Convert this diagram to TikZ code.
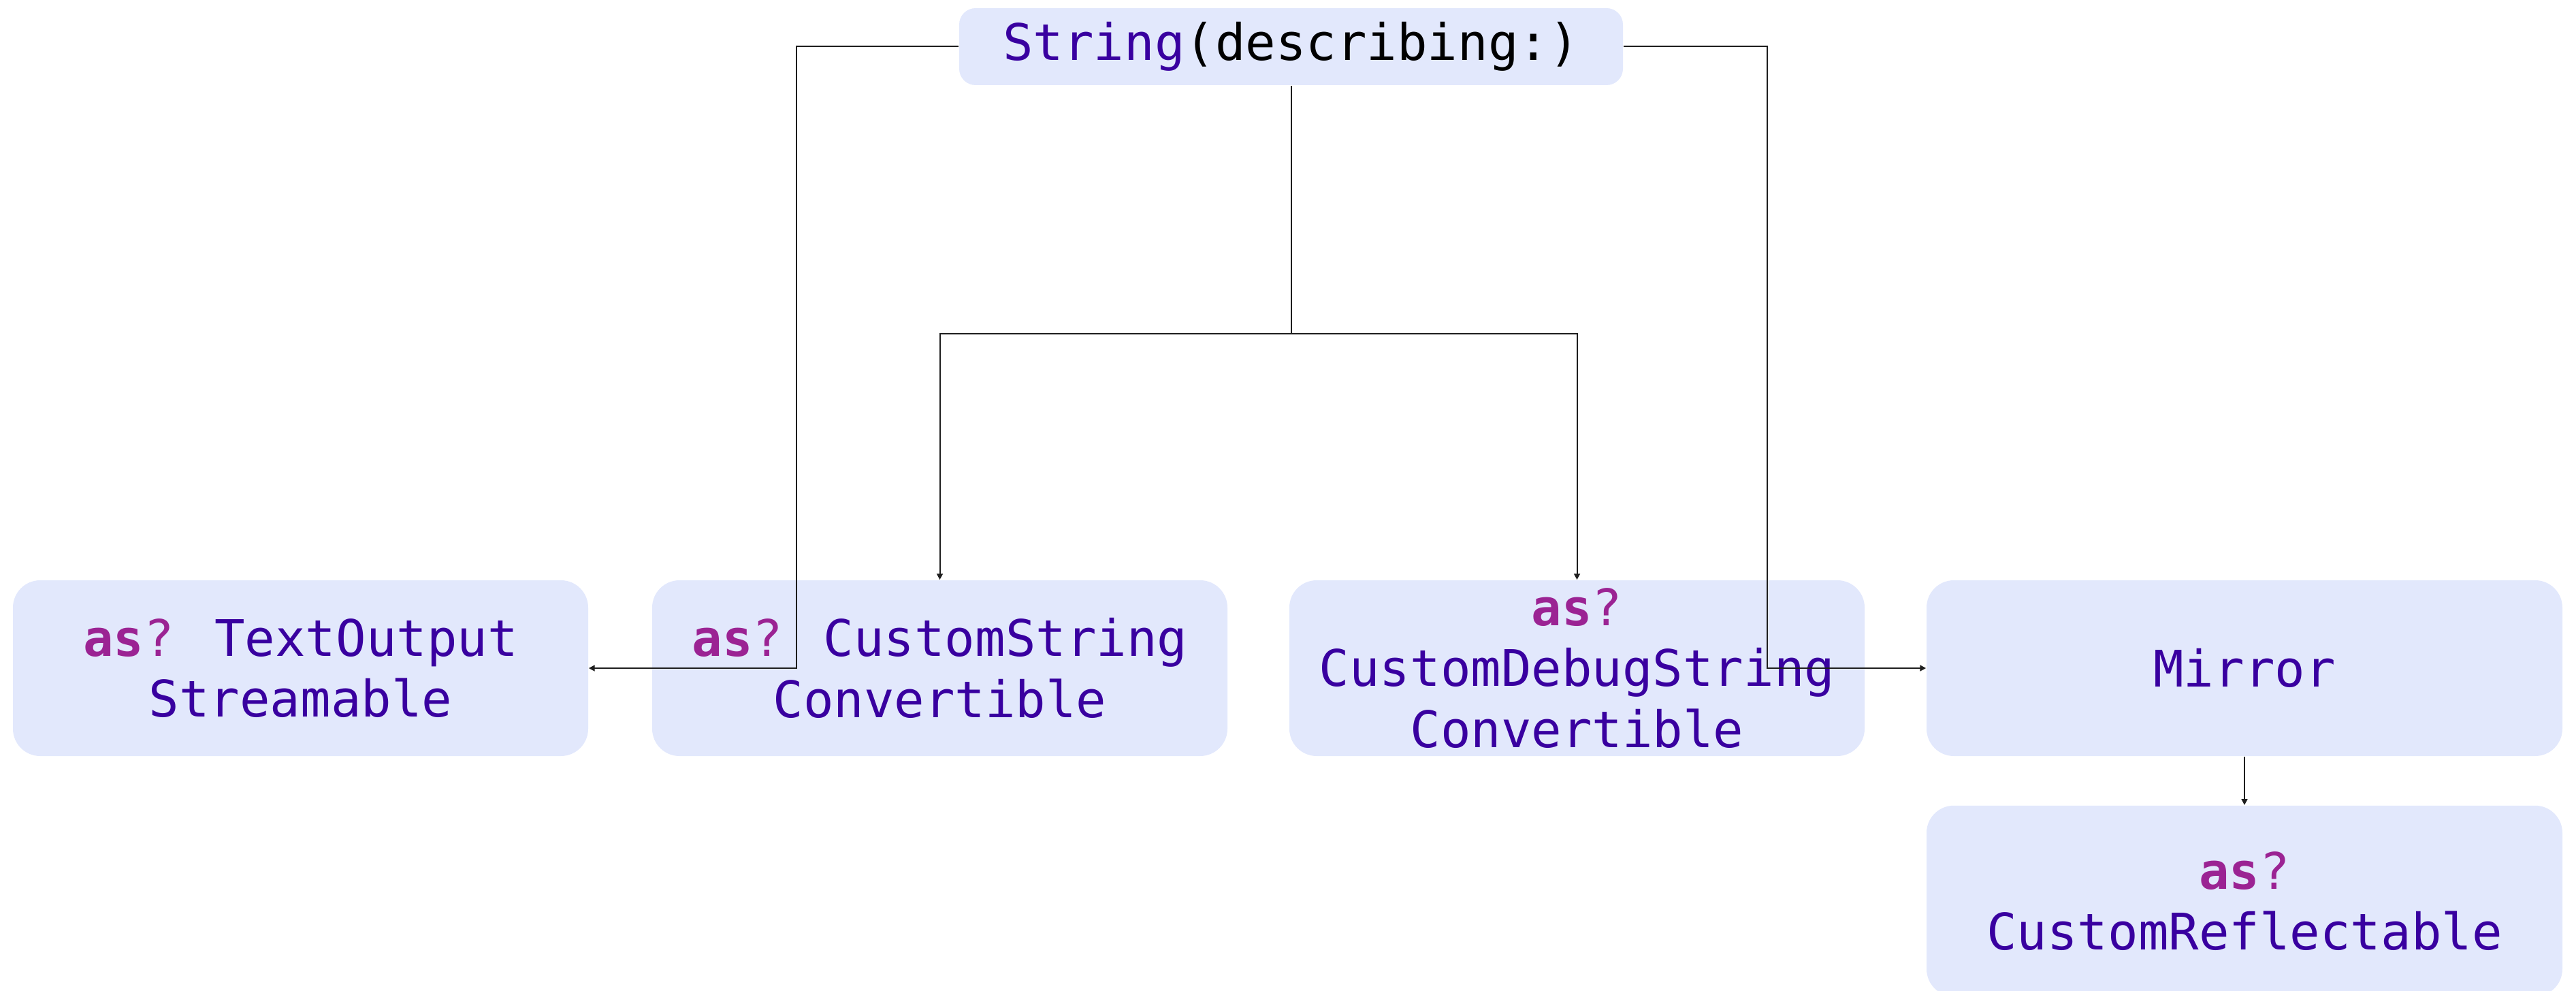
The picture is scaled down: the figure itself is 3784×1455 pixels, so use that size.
\documentclass[tikz,border=0pt]{standalone}
\usepackage{fontspec}
\usetikzlibrary{arrows.meta}
\newfontfamily\codefont{DejaVu Sans Mono}
\definecolor{boxfill}{HTML}{E2E8FC}
\definecolor{typecol}{HTML}{3900A0}
\definecolor{kwcol}{HTML}{9B2393}
\definecolor{linecol}{HTML}{1E1E1E}
\newcommand{\kwas}{\textcolor{kwcol}{\textbf{as}?}}
\begin{document}
\begin{tikzpicture}[x=0.25pt,y=-0.25pt,
  codebox/.style={fill=boxfill, draw=none, rounded corners=10pt, align=center,
    inner sep=0pt, text=typecol,
    font=\codefont\fontsize{18.5}{22.3}\selectfont},
  link/.style={draw=linecol, line width=0.5pt},
  arrowlink/.style={link, -{Triangle[length=2.2pt,width=2.2pt]}}]
\useasboundingbox (0,0) rectangle (3784,1455);

% root call
\node[codebox, rounded corners=6pt, minimum width=243.75pt, minimum height=28.25pt]
  (root) at (1896.5,68.5) {String\textcolor{black}{(describing:)}};

% first row of casts
\node[codebox, minimum width=211.25pt, minimum height=64.5pt]
  (tos) at (441.5,981) {\kwas{} TextOutput\\Streamable};
\node[codebox, minimum width=211.25pt, minimum height=64.5pt]
  (csc) at (1380.5,981) {\kwas{} CustomString\\Convertible};
\node[codebox, minimum width=211.25pt, minimum height=64.5pt]
  (cdsc) at (2316.5,981) {\kwas\\CustomDebugString\\Convertible};
\node[codebox, minimum width=233.5pt, minimum height=64.5pt]
  (mirror) at (3297,981) {Mirror};

% reflection fallback
\node[codebox, minimum width=233.5pt, minimum height=70pt, anchor=north]
  (refl) at (3297,1182) {\kwas\\CustomReflectable};

% connectors
\coordinate (lbend) at (1170,68.5);
\coordinate (rbend) at (2596,68.5);
\coordinate (split) at (1896.5,490);

\draw[arrowlink] (root.west) -- (lbend) |- (tos.east);
\draw[arrowlink] (root.east) -- (rbend) |- (mirror.west);
\draw[link] (root.south) -- (split);
\draw[arrowlink] (split) -| (csc.north);
\draw[arrowlink] (split) -| (cdsc.north);
\draw[arrowlink] (mirror.south) -- (refl.north);
\end{tikzpicture}
\end{document}
